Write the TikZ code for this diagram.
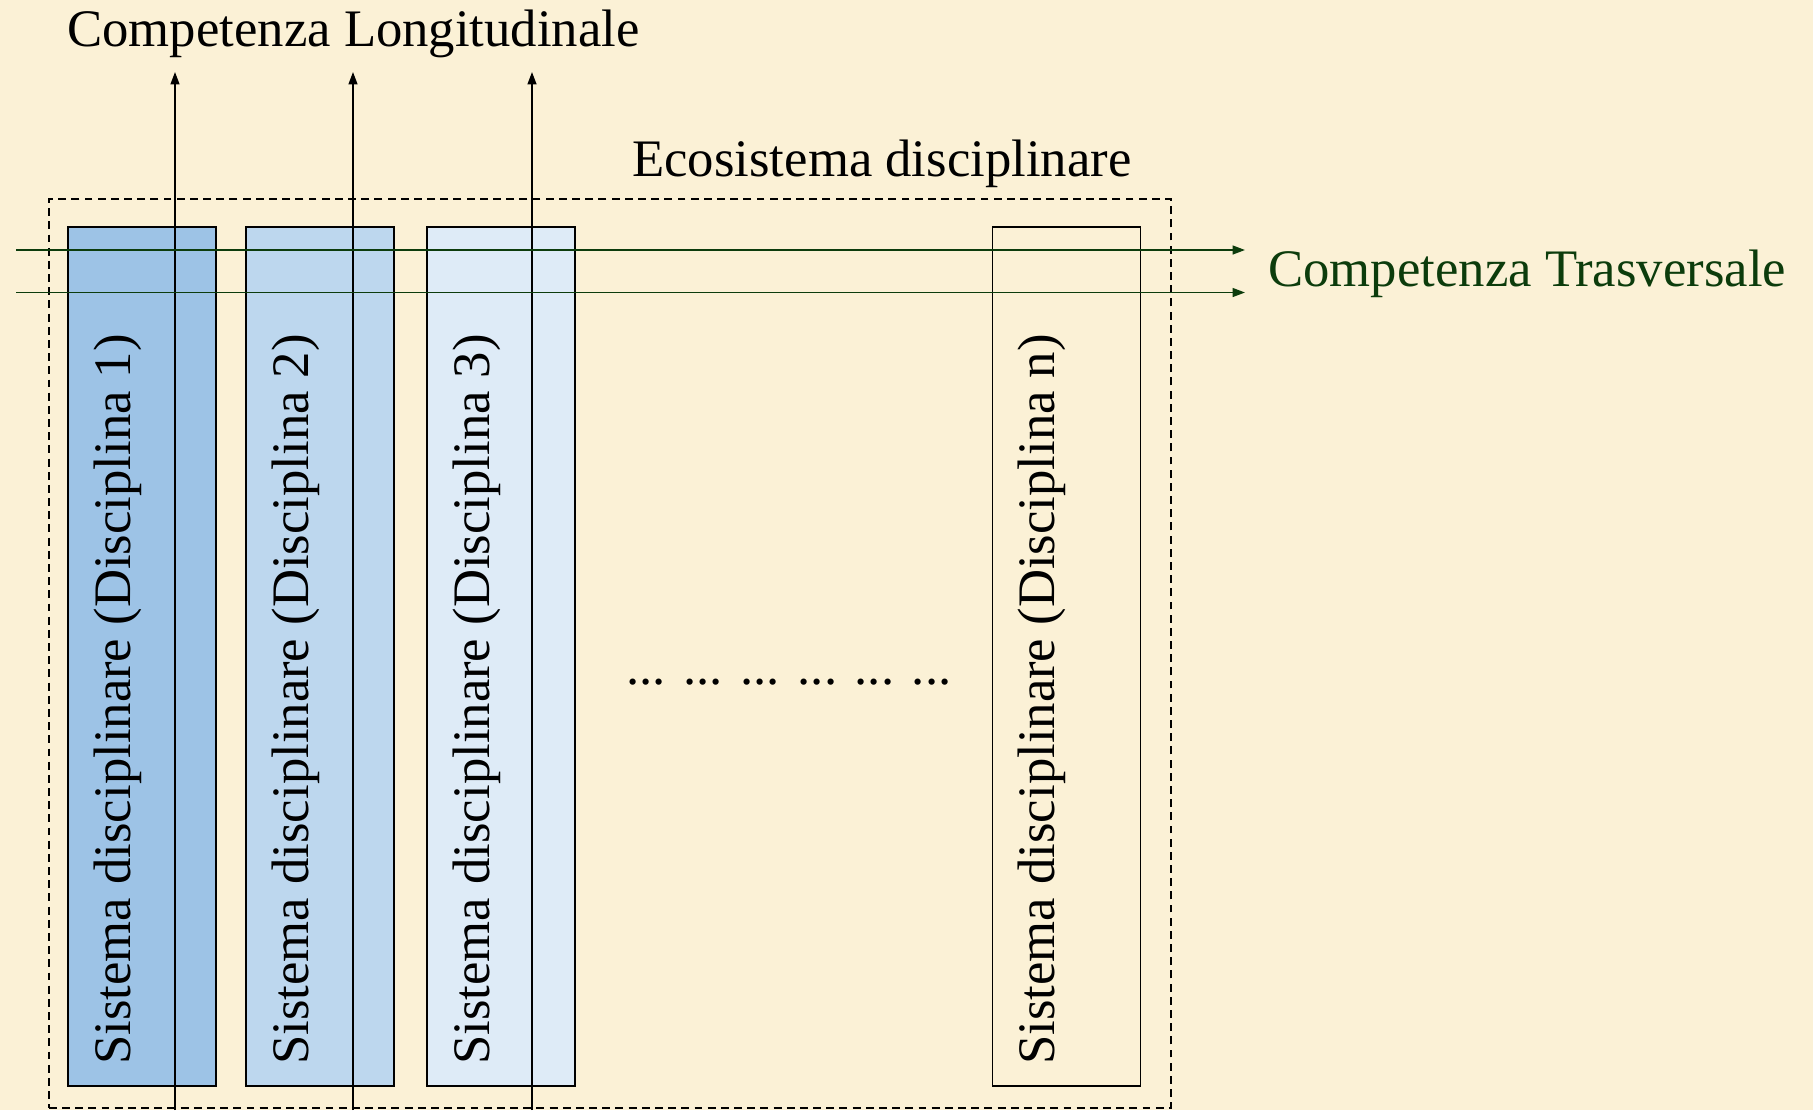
\documentclass[tikz,border=0pt]{standalone}
\usepackage{fontspec}
\setmainfont{Liberation Serif}
\usetikzlibrary{arrows.meta}
\definecolor{paper}{RGB}{251,241,214}
\definecolor{blueA}{RGB}{157,195,230}
\definecolor{blueB}{RGB}{189,215,238}
\definecolor{blueC}{RGB}{222,235,247}
\definecolor{trgreen}{RGB}{12,60,12}
\tikzset{
  txt/.style={anchor=base west,inner sep=0pt,font=\fontsize{30}{36}\selectfont},
  sys/.style={draw,line width=1pt,inner sep=0pt,minimum width=2.96cm,minimum height=17.18cm},
  syslbl/.style={txt,rotate=90},
  up/.style={line width=1pt,-{Triangle[length=7pt,width=5pt]}},
  across/.style={draw=trgreen,line width=1pt,-{Triangle[length=7pt,width=5pt]}}
}
\begin{document}
\begin{tikzpicture}[x=0.02cm,y=-0.02cm]
  \useasboundingbox[fill=paper] (0,0) rectangle (1813,1110);
  % ecosistema
  \node[draw,line width=1pt,dash pattern=on 4.5pt off 3pt,inner sep=0pt,
    minimum width=22.45cm,minimum height=18.18cm] (eco) at (610,653.5){};
  \node[txt] (ecolbl) at (632,176){Ecosistema disciplinare};
  \node[sys,fill=blueA] (s1) at (142,656.5){};
  \node[sys,fill=blueB] (s2) at (320,656.5){};
  \node[sys,fill=blueC] (s3) at (501,656.5){};
  \node[sys] (sn) at (1066.5,656.5){};
  \node[syslbl] (l1) at (130,1065){Sistema disciplinare (Disciplina 1)};
  \node[syslbl] (l2) at (308,1065){Sistema disciplinare (Disciplina 2)};
  \node[syslbl] (l3) at (489,1065){Sistema disciplinare (Disciplina 3)};
  \node[syslbl] (ln) at (1054,1065){Sistema disciplinare (Disciplina n)};
  \node[txt] (dots) at (626,684){... ... ... ... ... ...};
  \node[txt] (lon) at (67,46.5){Competenza Longitudinale};
  \node[txt,text=trgreen] (tra) at (1268,286.5){Competenza Trasversale};
  \foreach \i/\x in {1/175,2/353,3/532}{
    \coordinate (b\i) at (\x,1110);
    \coordinate (a\i) at (\x,72);
    \draw[up] (b\i) -- (a\i);
  }
  \foreach \i/\y in {1/250,2/292.5}{
    \coordinate (g\i) at (16,\y);
    \coordinate (h\i) at (1245,\y);
    \draw[across] (g\i) -- (h\i);
  }
\end{tikzpicture}
\end{document}
